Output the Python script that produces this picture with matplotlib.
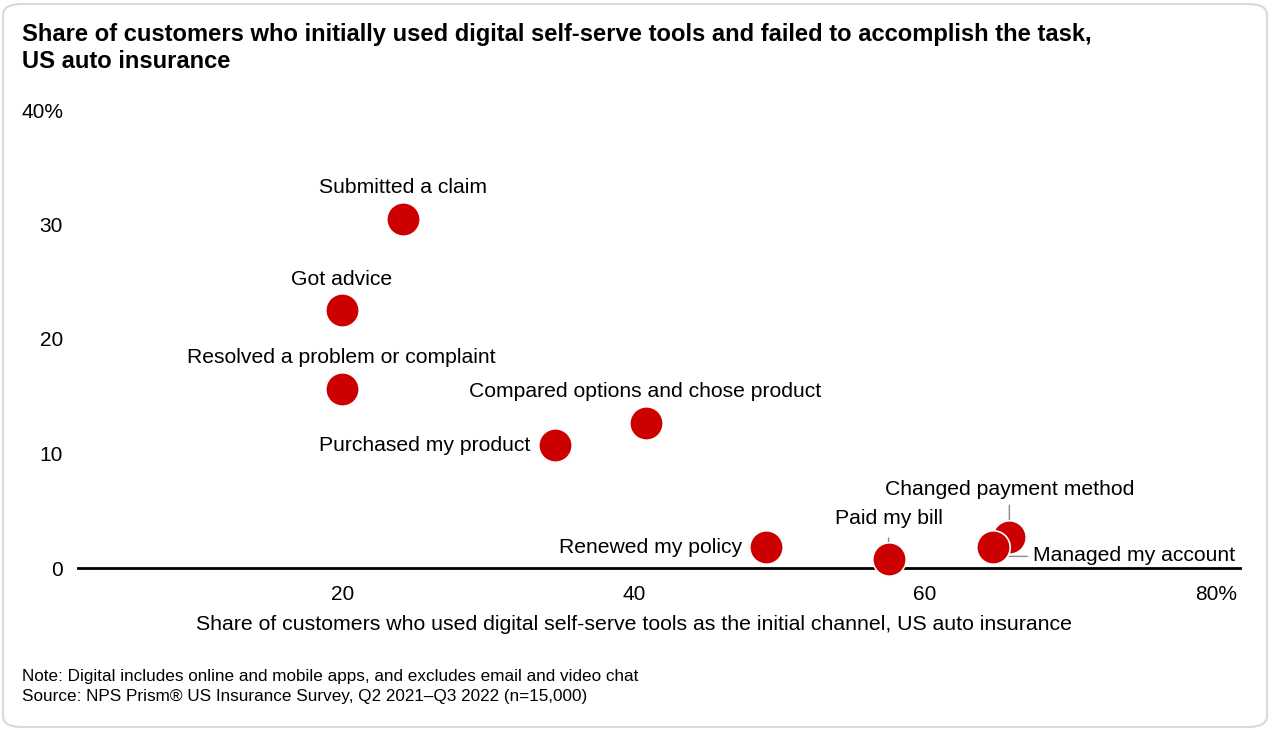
import matplotlib.pyplot as plt
from matplotlib.patches import FancyBboxPatch
from matplotlib.transforms import offset_copy

plt.rcParams['font.family'] = ['Liberation Sans', 'DejaVu Sans']

tasks = ['Submitted a claim', 'Got advice', 'Resolved a problem or complaint',
         'Compared options and chose product', 'Purchased my product',
         'Renewed my policy', 'Paid my bill', 'Changed payment method',
         'Managed my account']
digital_initial = [24.1, 19.9, 19.9, 40.8, 34.6, 49.1, 57.5, 65.8, 64.7]
failed_share = [30.5, 22.5, 15.6, 12.7, 10.7, 1.8, 0.8, 2.7, 1.8]

x_ticks = [20, 40, 60, 80]
x_ticklabels = ['20', '40', '60', '80%']
y_ticks = [0, 10, 20, 30, 40]
y_ticklabels = ['0', '10', '20', '30', '40%']

# label placement: offset in pixels, alignment
label_pos = {
    'Submitted a claim': ((0, 31), 'center'),
    'Got advice': ((0, 31), 'center'),
    'Resolved a problem or complaint': ((0, 32), 'center'),
    'Compared options and chose product': ((0, 31), 'center'),
    'Purchased my product': ((-25, 0), 'right'),
    'Renewed my policy': ((-24, 0), 'right'),
    'Paid my bill': ((0, 40), 'center'),
    'Changed payment method': ((0, 48), 'center'),
    'Managed my account': ((40, -8), 'left'),
}

fig = plt.figure(figsize=(12.72, 7.30), dpi=100)
ax = fig.add_axes([78/1272, (730-568)/730, 1162/1272, 458/730])

ax.scatter(digital_initial, failed_share, s=580, color='#cc0000',
           edgecolors='white', linewidths=1.2, zorder=3, clip_on=False)

for name, x, y in zip(tasks, digital_initial, failed_share):
    off, ha = label_pos[name]
    ax.annotate(name, (x, y), xytext=off, textcoords='offset pixels',
                ha=ha, va='center', fontsize=15.2, color='black', zorder=4)

# leader lines
gray = '#8c8c8c'
i = tasks.index('Paid my bill')
ax.annotate('', (digital_initial[i], failed_share[i]), xytext=(0, 21),
            textcoords='offset pixels',
            arrowprops=dict(arrowstyle='-', color=gray, lw=1,
                            shrinkA=0, shrinkB=8), zorder=2)
i = tasks.index('Changed payment method')
ax.annotate('', (digital_initial[i], failed_share[i]), xytext=(0, 32),
            textcoords='offset pixels',
            arrowprops=dict(arrowstyle='-', color=gray, lw=1,
                            shrinkA=0, shrinkB=10), zorder=2)
i = tasks.index('Managed my account')
below = offset_copy(ax.transData, fig, x=0, y=-9, units='dots')
ax.annotate('', (digital_initial[i], failed_share[i]), xycoords=below,
            xytext=(34, 0), textcoords='offset pixels',
            arrowprops=dict(arrowstyle='-', color=gray, lw=1,
                            shrinkA=0, shrinkB=0), zorder=2)

ax.set_xlim(1.79, 81.65)
ax.set_ylim(0, 40)
ax.set_xticks(x_ticks)
ax.set_xticklabels(x_ticklabels)
ax.set_yticks(y_ticks)
ax.set_yticklabels(y_ticklabels)
ax.tick_params(length=0, labelsize=15)
ax.tick_params(axis='y', pad=10.8)
ax.tick_params(axis='x', pad=12)
for s in ['top', 'right', 'left']:
    ax.spines[s].set_visible(False)
ax.spines['bottom'].set_linewidth(2)
ax.spines['bottom'].set_zorder(2)
ax.patch.set_visible(False)

fig.text(22/1272, 1-34/730, 'Share of customers who initially used digital self-serve tools and failed to accomplish the task,',
         fontsize=17.1, fontweight='bold', va='center', ha='left')
fig.text(22/1272, 1-61/730, 'US auto insurance',
         fontsize=17.1, fontweight='bold', va='center', ha='left')
fig.text(634/1272, 1-624/730, 'Share of customers who used digital self-serve tools as the initial channel, US auto insurance',
         fontsize=15.3, ha='center', va='center')
fig.text(22/1272, 1-676/730, 'Note: Digital includes online and mobile apps, and excludes email and video chat',
         fontsize=12.3, ha='left', va='center')
fig.text(22/1272, 1-697/730, 'Source: NPS Prism® US Insurance Survey, Q2 2021–Q3 2022 (n=15,000)',
         fontsize=12.3, ha='left', va='center')

frame = FancyBboxPatch((3/1272, 3/730), 1264/1272, 723/730,
                       boxstyle='round,pad=0,rounding_size=0.015',
                       transform=fig.transFigure, facecolor='none',
                       edgecolor='#d9d9d9', lw=1.5)
fig.patches.append(frame)

fig.savefig('out.png', dpi=100)
